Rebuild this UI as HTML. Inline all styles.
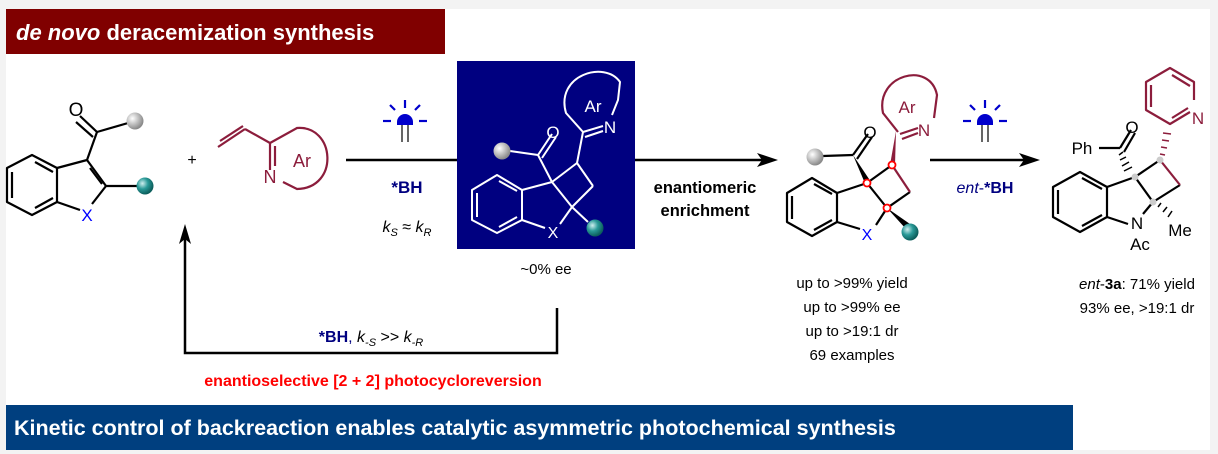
<!DOCTYPE html>
<html><head><meta charset="utf-8"><style>
html,body{margin:0;padding:0;background:#f3f3f3;}
body{width:1218px;height:454px;position:relative;overflow:hidden;font-family:"Liberation Sans",sans-serif;}
svg{position:absolute;left:0;top:0;}
</style></head><body>
<svg width="1218" height="454" viewBox="0 0 1218 454" font-family="Liberation Sans, sans-serif">
<defs>
<radialGradient id="gg" cx="35%" cy="35%" r="65%"><stop offset="0" stop-color="#fff"/><stop offset="1" stop-color="#8a8a8a"/></radialGradient>
<radialGradient id="tg" cx="35%" cy="35%" r="65%"><stop offset="0" stop-color="#cfeeee"/><stop offset="0.5" stop-color="#2a9a98"/><stop offset="1" stop-color="#0c5e5c"/></radialGradient>
<g id="led">
<path d="M-8,4 A8,8 0 0 1 8,4 Z" fill="#0000cc"/>
<rect x="-8" y="4" width="16" height="3" fill="#0000cc"/>
<line x1="-3" y1="7" x2="-3" y2="24" stroke="#666" stroke-width="2"/>
<line x1="3" y1="7" x2="3" y2="24" stroke="#666" stroke-width="2"/>
<g stroke="#0000cc" stroke-width="2.2">
<line x1="0" y1="-18" x2="0" y2="-10"/><line x1="-15" y1="-13" x2="-10" y2="-8"/><line x1="15" y1="-13" x2="10" y2="-8"/>
<line x1="-22" y1="3" x2="-14" y2="3"/><line x1="22" y1="3" x2="14" y2="3"/></g>
</g>
</defs>
<rect x="6" y="9" width="1204" height="441" fill="#fff"/>
<!-- banners -->
<rect x="6" y="9" width="439" height="45" fill="#800000"/>
<text x="16" y="40" fill="#fff" font-size="22" font-weight="bold"><tspan font-style="italic">de novo</tspan> deracemization synthesis</text>
<rect x="6" y="405" width="1067" height="45" fill="#003f7f"/>
<text x="14" y="435" fill="#fff" font-size="21.5" font-weight="bold">Kinetic control of backreaction enables catalytic asymmetric photochemical synthesis</text>

<!-- starting indole -->
<g stroke="#000" stroke-width="2.2" fill="none" stroke-linejoin="round">
<polygon points="32,155 57,168 57,202 32,215 7,202 7,168"/>
<line x1="12" y1="172" x2="12" y2="198"/><line x1="35" y1="162" x2="53" y2="172"/><line x1="35" y1="208" x2="53" y2="198"/>
<line x1="57" y1="168" x2="87" y2="160"/><line x1="87" y1="160" x2="106" y2="186"/><line x1="90" y1="168" x2="102" y2="184"/>
<line x1="106" y1="186" x2="92" y2="204"/><line x1="57" y1="202" x2="80" y2="210"/>
<line x1="87" y1="160" x2="97" y2="132"/><line x1="97" y1="132" x2="80" y2="116"/><line x1="93" y1="137" x2="76" y2="122"/>
<line x1="97" y1="132" x2="128" y2="123"/><line x1="106" y1="186" x2="137" y2="186"/>
</g>
<text x="76" y="116" font-size="19" text-anchor="middle">O</text>
<text x="87" y="221" font-size="17" text-anchor="middle" fill="#0000ff">X</text>
<circle cx="135" cy="121" r="8.5" fill="url(#gg)"/>
<circle cx="145" cy="186" r="8.5" fill="url(#tg)"/>
<text x="192" y="165" font-size="16" text-anchor="middle">+</text>
<!-- vinyl pyridine -->
<g stroke="#8c1d3c" stroke-width="2.2" fill="none">
<line x1="218" y1="147" x2="245" y2="129"/><line x1="220" y1="141" x2="243" y2="126"/>
<line x1="245" y1="129" x2="270" y2="143"/><line x1="270" y1="143" x2="270" y2="170"/><line x1="275" y1="146" x2="275" y2="166"/>
<path d="M270,143 L297,128 C335,125 340,188 297,189 L283,182"/>
</g>
<text x="270" y="183" font-size="18" fill="#8c1d3c" text-anchor="middle">N</text>
<text x="302" y="167" font-size="18" fill="#8c1d3c" text-anchor="middle">Ar</text>

<!-- first arrow segment -->
<line x1="346" y1="160" x2="458" y2="160" stroke="#000" stroke-width="2.5"/>
<use href="#led" x="405" y="118"/>
<text x="407" y="193" font-size="17" font-weight="bold" fill="#000080" text-anchor="middle">*BH</text>
<text x="407" y="232" font-size="16" text-anchor="middle" font-style="italic">k<tspan font-size="11" dy="4">S</tspan><tspan dy="-4" font-style="normal"> ≈ </tspan>k<tspan font-size="11" dy="4">R</tspan></text>

<!-- blue box -->
<rect x="457" y="61" width="178" height="188" fill="#000080"/>
<g stroke="#fff" stroke-width="2" fill="none" stroke-linejoin="round">
<polygon points="497,175 522,190 522,220 497,233 472,220 472,190"/>
<line x1="477" y1="193" x2="477" y2="217"/><line x1="499" y1="181" x2="517" y2="191"/><line x1="499" y1="227" x2="517" y2="217"/>
<line x1="522" y1="190" x2="552" y2="182"/><line x1="552" y1="182" x2="577" y2="163"/><line x1="577" y1="163" x2="593" y2="186"/><line x1="593" y1="186" x2="572" y2="207"/><line x1="572" y1="207" x2="552" y2="182"/>
<line x1="572" y1="207" x2="560" y2="224"/><line x1="522" y1="220" x2="545" y2="228"/>
<line x1="572" y1="207" x2="588" y2="222"/>
<line x1="552" y1="182" x2="538" y2="155"/><line x1="538" y1="155" x2="552" y2="134"/><line x1="542" y1="158" x2="556" y2="137"/>
<line x1="538" y1="155" x2="510" y2="151"/>
<line x1="577" y1="163" x2="583" y2="132"/><line x1="583" y1="132" x2="603" y2="126"/><line x1="585" y1="137" x2="603" y2="131"/>
<path d="M583,132 L566,113 C555,75 605,60 620,82 L618,100 L612,115"/>
</g>
<text x="553" y="138" font-size="17" fill="#fff" text-anchor="middle">O</text>
<text x="610" y="133" font-size="17" fill="#fff" text-anchor="middle">N</text>
<text x="593" y="112" font-size="17" fill="#fff" text-anchor="middle">Ar</text>
<text x="553" y="238" font-size="16" fill="#fff" text-anchor="middle">X</text>
<circle cx="502" cy="151" r="8.5" fill="url(#gg)"/>
<circle cx="595" cy="228" r="8.5" fill="url(#tg)"/>
<text x="546" y="274" font-size="15" text-anchor="middle">~0% ee</text>

<!-- second arrow -->
<line x1="635" y1="160" x2="765" y2="160" stroke="#000" stroke-width="2.5"/>
<polygon points="778,160 757,153 762,160 757,167" fill="#000"/>
<text x="705" y="193" font-size="16.5" font-weight="bold" text-anchor="middle">enantiomeric</text>
<text x="705" y="216" font-size="16.5" font-weight="bold" text-anchor="middle">enrichment</text>

<!-- product -->
<g stroke="#000" stroke-width="2.2" fill="none" stroke-linejoin="round">
<polygon points="812,178 837,193 837,222 812,236 787,222 787,193"/>
<line x1="792" y1="196" x2="792" y2="219"/><line x1="814" y1="184" x2="832" y2="194"/><line x1="814" y1="230" x2="832" y2="220"/>
<line x1="837" y1="193" x2="867" y2="183"/><line x1="867" y1="183" x2="887" y2="208"/><line x1="887" y1="208" x2="876" y2="225"/><line x1="837" y1="222" x2="860" y2="229"/>
<line x1="867" y1="183" x2="892" y2="165"/><line x1="887" y1="208" x2="910" y2="192"/>
<line x1="853" y1="155" x2="868" y2="134"/><line x1="857" y1="159" x2="872" y2="137"/>
<line x1="853" y1="155" x2="823" y2="156"/>
</g>
<polygon points="853,155 864,181 869,179" fill="#000"/>
<polygon points="887,208 906,229 910,224" fill="#000"/>
<g stroke="#8c1d3c" stroke-width="2.2" fill="none">
<line x1="892" y1="165" x2="910" y2="192"/>
<line x1="900" y1="134" x2="918" y2="128"/><line x1="902" y1="139" x2="918" y2="133"/>
<path d="M898,132 L883,113 C875,75 930,60 937,95 L934,118"/>
</g>
<polygon points="896,131 890,165 895,165" fill="#8c1d3c"/>
<text x="870" y="138" font-size="17" text-anchor="middle">O</text>
<text x="924" y="136" font-size="17" fill="#8c1d3c" text-anchor="middle">N</text>
<text x="907" y="113" font-size="17" fill="#8c1d3c" text-anchor="middle">Ar</text>
<text x="867" y="240" font-size="16" fill="#0000ff" text-anchor="middle">X</text>
<circle cx="815" cy="157" r="8.5" fill="url(#gg)"/>
<circle cx="910" cy="232" r="8.5" fill="url(#tg)"/>
<g fill="#fff" stroke="#f00" stroke-width="1.8">
<circle cx="867" cy="183" r="3.5"/><circle cx="892" cy="165" r="3.5"/><circle cx="887" cy="208" r="3.5"/></g>
<g font-size="15" text-anchor="middle">
<text x="852" y="288">up to &gt;99% yield</text>
<text x="852" y="312">up to &gt;99% ee</text>
<text x="852" y="336">up to &gt;19:1 dr</text>
<text x="852" y="360">69 examples</text></g>

<!-- third arrow -->
<line x1="930" y1="160" x2="1026" y2="160" stroke="#000" stroke-width="2.5"/>
<polygon points="1040,160 1019,153 1024,160 1019,167" fill="#000"/>
<use href="#led" x="985" y="118"/>
<text x="985" y="193" font-size="16" fill="#000080" text-anchor="middle"><tspan font-style="italic">ent</tspan>-<tspan font-weight="bold">*BH</tspan></text>

<!-- ent-3a -->
<g stroke="#000" stroke-width="2.2" fill="none" stroke-linejoin="round">
<polygon points="1080,172 1107,187 1107,217 1080,232 1053,217 1053,187"/>
<line x1="1058" y1="190" x2="1058" y2="214"/><line x1="1082" y1="178" x2="1102" y2="189"/><line x1="1082" y1="226" x2="1102" y2="215"/>
<line x1="1107" y1="187" x2="1135" y2="177"/><line x1="1135" y1="177" x2="1153" y2="202"/><line x1="1153" y1="202" x2="1143" y2="214"/><line x1="1107" y1="217" x2="1128" y2="224"/>
<line x1="1135" y1="177" x2="1160" y2="160"/><line x1="1153" y1="202" x2="1180" y2="185"/>
<line x1="1120" y1="148" x2="1131" y2="130"/><line x1="1124" y1="152" x2="1135" y2="133"/>
<line x1="1120" y1="148" x2="1099" y2="148"/>
</g>
<g stroke="#000" stroke-width="1.5">
<line x1="1123" y1="152" x2="1119" y2="155"/><line x1="1126" y1="157" x2="1120" y2="160"/><line x1="1129" y1="162" x2="1122" y2="166"/><line x1="1132" y1="167" x2="1124" y2="171"/>
<line x1="1158" y1="207" x2="1161" y2="203"/><line x1="1163" y1="212" x2="1167" y2="207"/><line x1="1168" y1="217" x2="1172" y2="211"/>
</g>
<g stroke="#8c1d3c" stroke-width="1.5">
<line x1="1160" y1="154" x2="1165" y2="155"/><line x1="1161" y1="147" x2="1167" y2="148"/><line x1="1162" y1="140" x2="1169" y2="141"/><line x1="1163" y1="133" x2="1171" y2="134"/>
</g>
<g stroke="#8c1d3c" stroke-width="2.2" fill="none" stroke-linejoin="round">
<line x1="1160" y1="160" x2="1180" y2="185"/>
<polyline points="1190,112 1170,124 1146,110 1146,82 1170,68 1194,82 1194,100"/>
<line x1="1151" y1="85" x2="1151" y2="107"/><line x1="1172" y1="75" x2="1190" y2="86"/><line x1="1172" y1="118" x2="1188" y2="108"/>
</g>
<text x="1198" y="124" font-size="17" fill="#8c1d3c" text-anchor="middle">N</text>
<text x="1132" y="133" font-size="17" text-anchor="middle">O</text>
<text x="1082" y="154" font-size="17" text-anchor="middle">Ph</text>
<text x="1137" y="229" font-size="17" text-anchor="middle">N</text>
<text x="1140" y="250" font-size="17" text-anchor="middle">Ac</text>
<text x="1180" y="236" font-size="17" text-anchor="middle">Me</text>
<g fill="#ccc"><circle cx="1135" cy="177" r="3.5"/><circle cx="1160" cy="160" r="3.5"/><circle cx="1153" cy="202" r="3.5"/></g>
<text x="1137" y="289" font-size="15" text-anchor="middle"><tspan font-style="italic">ent</tspan>-<tspan font-weight="bold">3a</tspan>: 71% yield</text>
<text x="1137" y="313" font-size="15" text-anchor="middle">93% ee, &gt;19:1 dr</text>

<!-- feedback loop -->
<polyline points="557,308 557,353 185,353 185,238" fill="none" stroke="#000" stroke-width="2.5"/>
<polygon points="185,224 179,244 185,239 191,244" fill="#000"/>
<text x="371" y="342" font-size="16" text-anchor="middle"><tspan fill="#000080" font-weight="bold">*BH</tspan><tspan fill="#000080">,</tspan> <tspan font-style="italic">k</tspan><tspan font-size="11" dy="4" font-style="italic">-S</tspan><tspan dy="-4"> &gt;&gt; </tspan><tspan font-style="italic">k</tspan><tspan font-size="11" dy="4" font-style="italic">-R</tspan></text>
<text x="373" y="386" font-size="16" font-weight="bold" fill="#ff0000" text-anchor="middle">enantioselective [2 + 2] photocycloreversion</text>
</svg>
</body></html>
